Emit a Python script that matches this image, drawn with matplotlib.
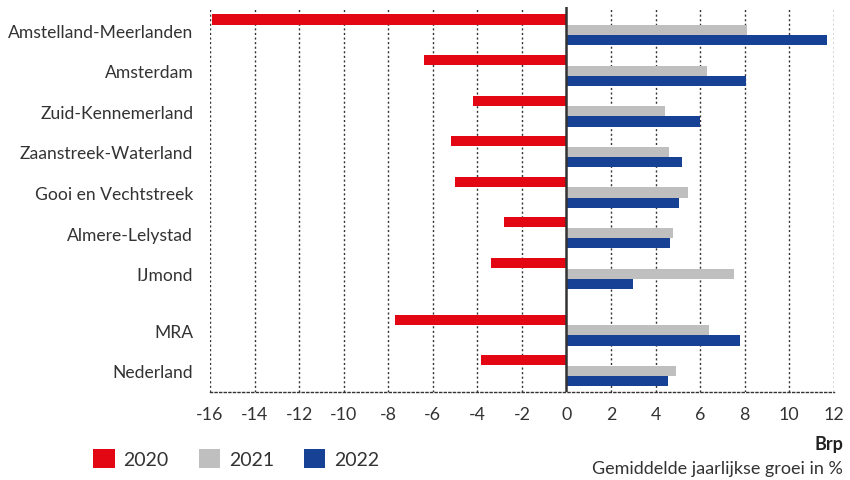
import numpy as np
import matplotlib
matplotlib.use('Agg')
import matplotlib.pyplot as plt
from matplotlib.patches import Patch

# data
regions = ['Amstelland-Meerlanden', 'Amsterdam', 'Zuid-Kennemerland',
           'Zaanstreek-Waterland', 'Gooi en Vechtstreek', 'Almere-Lelystad',
           'IJmond', 'MRA', 'Nederland']
groei_2020 = [-15.9, -6.4, -4.2, -5.2, -5.0, -2.8, -3.4, -7.7, -3.85]
groei_2021 = [8.1, 6.3, 4.4, 4.6, 5.45, 4.8, 7.5, 6.4, 4.9]
groei_2022 = [11.7, 8.05, 6.0, 5.2, 5.05, 4.65, 3.0, 7.8, 4.55]
years = ['2020', '2021', '2022']
xticks = list(range(-16, 13, 2))

colors = ['#E30613', '#BFBFBF', '#164194']

plt.rcParams['font.family'] = ['Lato', 'DejaVu Sans']

fig = plt.figure(figsize=(8.5, 4.81), dpi=100)
ax = fig.add_axes([0.247, 0.183, 0.734, 0.800])

# extra ruimte tussen IJmond en MRA
ypos = np.array([0, 1, 2, 3, 4, 5, 6, 7.4, 8.4])
h = 0.25
offsets = [-0.265, 0.0, 0.25]
for vals, off, c in zip([groei_2020, groei_2021, groei_2022], offsets, colors):
    ax.barh(ypos + off, vals, height=h, color=c, zorder=3)

ax.set_xlim(-16, 12)
ax.set_ylim(8.92, -0.57)
ax.set_xticks(xticks)
ax.set_xticklabels([str(t) for t in xticks], fontsize=12.8, color='#333333')
ax.set_yticks(ypos)
ax.set_yticklabels(regions, fontsize=12.6, color='#333333')
ax.tick_params(axis='both', length=0)
ax.tick_params(axis='y', pad=12)
ax.tick_params(axis='x', pad=10)

# gestippelde verticale hulplijnen
for t in xticks:
    if t != 0:
        ax.axvline(t, color='#333333', lw=1, ls=(0, (1.5, 1.8)), zorder=1)
ax.axvline(0, color='#333333', lw=1.8, zorder=4)

for s in ['top', 'right', 'left']:
    ax.spines[s].set_visible(False)
ax.spines['bottom'].set_linestyle((0, (1.5, 1.8)))
ax.spines['bottom'].set_color('#333333')
ax.spines['bottom'].set_linewidth(1)

fig.text(0.992, 0.076, 'Brp', ha='right', va='center', fontsize=13,
         fontweight='bold', color='#222222')
fig.text(0.992, 0.025, 'Gemiddelde jaarlijkse groei in %', ha='right',
         va='center', fontsize=13, color='#333333')

handles = [Patch(facecolor=c, edgecolor='none') for c in colors]
fig.legend(handles, years, loc='lower left', bbox_to_anchor=(0.089, -0.012),
           ncol=3, frameon=False, fontsize=14, handlelength=1.1,
           handleheight=1.1, handletextpad=0.45, columnspacing=1.55,
           labelcolor='#333333')

fig.savefig('out.png', dpi=100)
